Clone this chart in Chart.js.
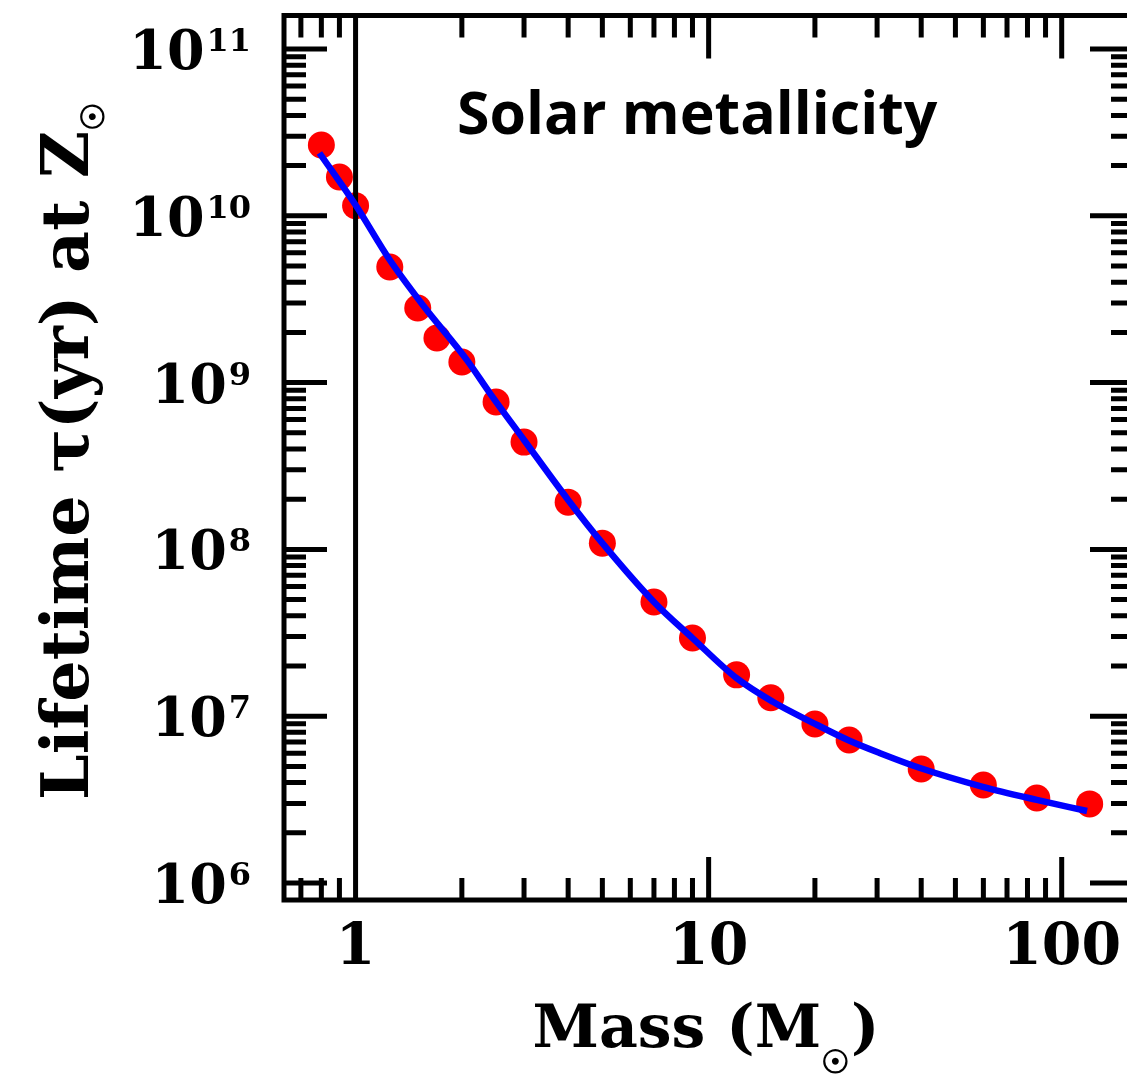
<!DOCTYPE html>
<html>
<head>
<meta charset="utf-8">
<script src="https://cdn.jsdelivr.net/npm/chart.js@4.4.1/dist/chart.umd.min.js"></script>
<style>
    html, body { margin: 0; padding: 0; background: #fff; overflow: hidden; }
    #wrap { width: 1160px; height: 1082px; }
</style>
</head>
<body>
<div id="wrap"><canvas id="lifetimeChart" width="1160" height="1082"></canvas></div>
<script>
// stellar models (Msun) and their lifetimes (yr)
var massModels = [0.8, 0.9, 1, 1.25, 1.5, 1.7, 2, 2.5, 3, 4, 5, 7, 9, 12, 15, 20, 25, 40, 60, 85, 120];
var lifetimeModels = [2.66e10, 1.71e10, 1.15e10, 4.93e9, 2.80e9, 1.85e9, 1.33e9, 7.65e8, 4.40e8, 1.92e8,
                      1.09e8, 4.84e7, 2.94e7, 1.77e7, 1.29e7, 8.98e6, 7.20e6, 4.82e6, 3.87e6, 3.23e6, 2.98e6];

// fitted curve
var massFit = [0.79, 1, 1.25, 1.55, 2.07, 2.4, 3, 4, 5, 7, 9, 12, 15.2, 19.8, 24.8, 30.6, 39.7, 59.8, 85, 118];
var lifetimeFit = [2.38e10, 1.16e10, 5.43e9, 2.92e9, 1.36e9, 8.66e8, 4.53e8, 1.98e8, 1.09e8, 4.84e7,
                   2.94e7, 1.69e7, 1.22e7, 9.1e6, 7.2e6, 6.0e6, 4.89e6, 3.77e6, 3.15e6, 2.70e6];

// axis ticks
var massMajor = [1, 10, 100];
var massMinor = [0.7, 0.8, 0.9, 2, 3, 4, 5, 6, 7, 8, 9, 20, 30, 40, 50, 60, 70, 80, 90];
var lifetimeExponents = [6, 7, 8, 9, 10, 11];

var lifetimeMajor = lifetimeExponents.map(function (e) { return Math.pow(10, e); });
var lifetimeMinor = [];
lifetimeExponents.forEach(function (e) {
    for (var k = 2; k <= 9; k++) lifetimeMinor.push(k * Math.pow(10, e));
});

var SERIF = '"DejaVu Serif", "Liberation Serif", serif';

function drawText(ctx, parts, x, y, align) {
    // parts: [{text, font, dy, kern}]
    var total = 0;
    parts.forEach(function (p) { ctx.font = p.font; p.w = ctx.measureText(p.text).width; total += p.w + (p.kern || 0); });
    var cx = align === 'center' ? x - total / 2 : (align === 'right' ? x - total : x);
    parts.forEach(function (p) {
        ctx.font = p.font;
        ctx.fillText(p.text, cx, y + (p.dy || 0));
        cx += p.w + (p.kern || 0);
    });
}

var frameAndTicks = {
    id: 'frameAndTicks',
    afterDatasetDraw: function (chart, args) {
        if (args.index !== 1) return;   // after the red points, under the blue fit
        var ctx = chart.ctx, a = chart.chartArea;
        var xs = chart.scales.x, ys = chart.scales.y;
        ctx.save();
        ctx.strokeStyle = '#000';
        ctx.lineWidth = 5;
        ctx.lineCap = 'butt';
        ctx.beginPath();
        function xt(v, len) {
            var px = xs.getPixelForValue(v);
            if (px < a.left || px > a.right) return;
            ctx.moveTo(px, a.bottom); ctx.lineTo(px, a.bottom - len);
            ctx.moveTo(px, a.top); ctx.lineTo(px, a.top + len);
        }
        function yt(v, len) {
            var py = ys.getPixelForValue(v);
            if (py < a.top || py > a.bottom) return;
            ctx.moveTo(a.left, py); ctx.lineTo(a.left + len, py);
            ctx.moveTo(a.right, py); ctx.lineTo(a.right - len, py);
        }
        massMinor.forEach(function (v) { xt(v, 22); });
        massMajor.forEach(function (v) { xt(v, 43); });
        lifetimeMinor.forEach(function (v) { yt(v, 22); });
        lifetimeMajor.forEach(function (v) { yt(v, 43); });
        // 1 Msun reference line
        var x1 = xs.getPixelForValue(1);
        ctx.moveTo(x1, a.top); ctx.lineTo(x1, a.bottom);
        ctx.stroke();
        ctx.strokeRect(a.left, a.top, a.right - a.left, a.bottom - a.top);
        ctx.restore();
    },
    afterDraw: function (chart) {
        var ctx = chart.ctx, ys = chart.scales.y;
        ctx.save();
        ctx.fillStyle = '#000';
        ctx.textBaseline = 'alphabetic';
        ctx.textAlign = 'left';

        // y tick labels 10^n
        lifetimeExponents.forEach(function (e) {
            var py = ys.getPixelForValue(Math.pow(10, e));
            drawText(ctx, [
                { text: '10', font: 'bold 54px ' + SERIF, kern: 2 },
                { text: String(e), font: 'bold 32px ' + SERIF, dy: -18 }
            ], 251, py + 20, 'right');
        });

        // x title
        drawText(ctx, [
            { text: 'Mass (M', font: 'bold 60px ' + SERIF },
            { text: '\u2609', font: 'bold 32px ' + SERIF, dy: 26, kern: 1 },
            { text: ')', font: 'bold 60px ' + SERIF }
        ], 706, 1047, 'center');

        // y title, rotated, reads bottom to top
        ctx.translate(88, 800);
        ctx.rotate(-Math.PI / 2);
        drawText(ctx, [
            { text: 'Lifetime \u03c4(yr) at Z', font: 'bold 65px ' + SERIF },
            { text: '\u2609', font: 'bold 32px ' + SERIF, dy: 16 }
        ], 0, 0, 'left');
        ctx.setTransform(1, 0, 0, 1, 0, 0);

        // annotation
        ctx.font = 'bold 59px "Open Sans", "Noto Sans", sans-serif';
        ctx.fillText('Solar metallicity', 457, 134);
        ctx.restore();
    }
};

document.addEventListener("DOMContentLoaded", function () {
    var ctx = document.getElementById('lifetimeChart').getContext('2d');

    var chart = new Chart(ctx, {
        type: 'scatter',
        data: {
            datasets: [
                {
                    label: 'Fit',
                    data: massFit.map(function (m, i) { return { x: m, y: lifetimeFit[i] }; }),
                    showLine: true,
                    borderColor: '#0000ff',
                    borderWidth: 6.5,
                    pointRadius: 0,
                    cubicInterpolationMode: 'monotone',
                    fill: false
                },
                {
                    label: 'Models',
                    data: massModels.map(function (m, i) { return { x: m, y: lifetimeModels[i] }; }),
                    showLine: false,
                    pointRadius: 13.5,
                    backgroundColor: '#ff0000',
                    borderWidth: 0
                }
            ]
        },
        options: {
            responsive: false,
            animation: false,
            layout: { padding: { top: 15.5, right: 27, bottom: 0, left: 0 } },
            plugins: { legend: { display: false }, tooltip: { enabled: false } },
            scales: {
                x: {
                    type: 'logarithmic',
                    bounds: 'data',
                    min: 0.627,
                    max: 159.2,
                    grid: { display: false },
                    border: { display: false },
                    afterBuildTicks: function (s) {
                        s.ticks = massMinor.concat(massMajor).sort(function (p, q) { return p - q; })
                            .map(function (v) { return { value: v }; });
                    },
                    afterFit: function (s) {
                        s.height = 182;
                        s.paddingLeft = 0; s.paddingRight = 0;
                    },
                    ticks: {
                        autoSkip: false,
                        maxRotation: 0,
                        padding: 7,
                        color: '#000',
                        font: { family: SERIF, weight: 'bold', size: 57 },
                        callback: function (v) { return massMajor.indexOf(v) >= 0 ? String(v) : ''; }
                    }
                },
                y: {
                    type: 'logarithmic',
                    bounds: 'data',
                    min: Math.pow(10, 5.898),
                    max: Math.pow(10, 11.201),
                    grid: { display: false },
                    border: { display: false },
                    afterBuildTicks: function (s) {
                        s.ticks = lifetimeMajor.map(function (v) { return { value: v }; });
                    },
                    afterFit: function (s) {
                        s.width = 284;
                        s.paddingTop = 0; s.paddingBottom = 0;
                    },
                    ticks: { display: false }
                }
            }
        },
        plugins: [frameAndTicks]
    });
});
</script>
</body>
</html>
